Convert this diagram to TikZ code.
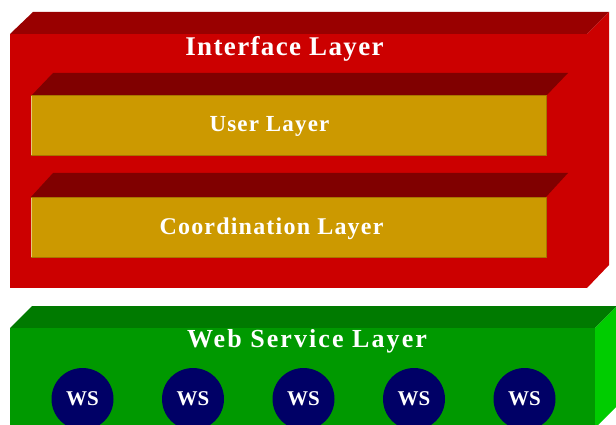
\documentclass[tikz,border=0pt]{standalone}
\usepackage{fontspec}
\setmainfont{Liberation Serif}
\newfontfamily\spacedfont[LetterSpace=5]{Liberation Serif}
\newfontfamily\widefont[LetterSpace=8]{Liberation Serif}

\definecolor{ifront}{HTML}{CC0000}
\definecolor{itop}{HTML}{990000}
\definecolor{innertop}{HTML}{800000}
\definecolor{gold}{HTML}{CC9900}
\definecolor{goldedge}{HTML}{A87400}
\definecolor{goldlight}{HTML}{E6C77A}
\definecolor{wsfront}{HTML}{009900}
\definecolor{wstop}{HTML}{007A00}
\definecolor{wsside}{HTML}{00CC00}
\definecolor{navy}{HTML}{000066}

\tikzset{
  layertext/.style={text=white, inner sep=0pt, anchor=base},
  wsnode/.style={circle, fill=navy, minimum size=62pt, inner sep=0pt,
    text=white, font=\bfseries\fontsize{21}{24}\selectfont},
}

\begin{document}
\begin{tikzpicture}[x=1pt,y=-1pt]
  \useasboundingbox (0,0) rectangle (616,425);
  \fill[white] (0,0) rectangle (616,425);
  \clip (0,0) rectangle (616,425);

  % Interface layer slab
  \fill[itop]   (10,34) -- (33,12) -- (609,12) -- (587,34) -- cycle;
  \fill[ifront] (587,34) -- (609,12) -- (609,265) -- (587,288) -- cycle;
  \fill[ifront] (10,34) rectangle (587,288);

  % User layer slab
  \fill[innertop] (31,96) -- (53,73) -- (568,73) -- (546,96) -- cycle;
  \fill[gold, draw=goldedge, line width=1pt] (31,96) rectangle (546,156);
  \draw[goldlight, line width=1pt] (31.5,96.5) -- (31.5,155.5);

  % Coordination layer slab
  \fill[innertop] (31,197) -- (53,173) -- (568,173) -- (546,197) -- cycle;
  \fill[gold, draw=goldedge, line width=1pt] (31,197) rectangle (546,257);
  \draw[goldlight, line width=1pt] (31.5,197.5) -- (31.5,256.5);

  % Web service layer slab
  \fill[wstop]   (10,328) -- (32,306) -- (617,306) -- (595,328) -- cycle;
  \fill[wsside]  (595,328) -- (617,306) -- (617,406) -- (595,428) -- cycle;
  \fill[wsfront] (10,328) rectangle (595,428);

  % Layer titles
  \node[layertext, font=\spacedfont\bfseries\fontsize{27}{32}\selectfont]
    (iface) at (284.5,56) {Interface Layer};
  \node[layertext, font=\spacedfont\bfseries\fontsize{23}{28}\selectfont]
    (user) at (269.5,132) {User Layer};
  \node[layertext, font=\spacedfont\bfseries\fontsize{24}{28}\selectfont]
    (coord) at (271.5,234) {Coordination Layer};
  \node[layertext, font=\widefont\bfseries\fontsize{26}{30}\selectfont]
    (websvc) at (307,347) {Web Service Layer};

  % Web services
  \node[wsnode] (ws1) at (82.5,399) {WS};
  \node[wsnode] (ws2) at (193,399) {WS};
  \node[wsnode] (ws3) at (303.5,399) {WS};
  \node[wsnode] (ws4) at (414,399) {WS};
  \node[wsnode] (ws5) at (524.5,399) {WS};
\end{tikzpicture}
\end{document}
